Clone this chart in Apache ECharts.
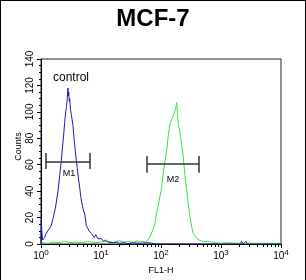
<!DOCTYPE html>
<html>
<head>
<meta charset="utf-8">
<script src="https://cdn.jsdelivr.net/npm/echarts@6/dist/echarts.min.js"></script>
<style>
html,body{margin:0;padding:0;background:#fff;}
#c{width:306px;height:280px;}
</style>
</head>
<body>
<div id="c"></div>
<script>
// ---- data ----
const title = 'MCF-7';
const xName = 'FL1-H';
const yName = 'Counts';
const xMin = 1, xMax = 10000;
const yMin = 0, yMax = 140, yInterval = 20;
const minorTickValues = [2,3,4,5,6,7,8,9,20,30,40,50,60,70,80,90,200,300,400,500,600,700,800,900,2000,3000,4000,5000,6000,7000,8000,9000];

// control (blue) histogram: [FL1-H, counts]
const controlData = [
  [1.0,0],[1.01,18],[1.03,10],[1.06,3],[1.1,2],[1.15,5],[1.22,8],[1.3,10],[1.4,12],[1.48,14],
  [1.6,20],[1.75,28],[1.92,40],[2.05,52],[2.18,63],[2.3,75],[2.4,84],[2.48,92],[2.58,100],
  [2.66,104],[2.74,110],[2.78,116],[2.82,118],[2.86,112],[2.9,115],[2.96,108],[3.01,110],
  [3.1,102],[3.2,98],[3.3,94],[3.41,90],[3.55,80],[3.7,72],[3.88,63],[4.0,58],[4.2,50],
  [4.41,43],[4.6,36],[4.8,31],[5.0,27],[5.2,28],[5.4,22],[5.69,14],[6.0,12],[6.3,10],
  [6.88,8],[7.3,7],[7.7,5],[8.2,7],[8.9,4],[9.5,3],[10.2,4],[11,2],[12,3],[13,1.5],[14,2],
  [16,1],[18,1.5],[20,0.5],[24,1],[28,0.3],[35,1],[45,0.5],[60,1],[85,0],[2100,0],[2200,2],
  [2350,0],[2500,0],[2600,2],[2750,0],[10000,0]
];
// MCF-7 (green) histogram: [FL1-H, counts]
const sampleData = [
  [1,1],[1.3,0.5],[1.6,1.5],[2,1],[2.5,2],[3,1],[4,1.5],[5,0.8],[6,2],[8,1],[10,1.5],[13,2],
  [16,1],[20,2.5],[25,1.5],[30,2],[35,1],[40,2.5],[45,1.5],[50,2],[55,1.5],[60,3],[65.6,5.5],
  [72,10],[79.4,15.6],[85,24],[90,29.5],[96,31],[102,42],[109,53.5],[116,62],[124.5,71],
  [132,82],[141,91],[150,94],[157,96],[165,99],[171,101],[177,104],[183,107],[188,98],
  [194,91],[200,88],[207,84],[220,76],[235,66],[250,52],[268,41],[285,30],[304,20.7],
  [325,13],[345,8],[370,6],[394,4.3],[430,3],[507,1.8],[600,2],[700,1.5],[800,1],[1000,0.5],
  [1200,1],[2000,0.5],[3000,0.5],[5000,0.5],[10000,0.5]
];
// gate markers
const gateNames = ['M1','M2'];
const gateStart = [1.2, 58];
const gateEnd = [6.6, 433];
const gateLevel = [62, 60.5];
const gateCapLow = [56.8, 54];
const gateCapHigh = [68.9, 66.6];
const gateLabelX = [2.93, 158];
const gateLabelY = [53.4, 49];
const annotation = 'control';

// ---- chart ----
const FONT = '"Liberation Sans", Arial, sans-serif';
const chart = echarts.init(document.getElementById('c'));

const markLines = [];
const markPoints = [];
for (let i = 0; i < gateNames.length; i++) {
  markLines.push([{coord:[gateStart[i], gateLevel[i]]},{coord:[gateEnd[i], gateLevel[i]]}]);
  markLines.push([{coord:[gateStart[i], gateCapLow[i]]},{coord:[gateStart[i], gateCapHigh[i]]}]);
  markLines.push([{coord:[gateEnd[i], gateCapLow[i]]},{coord:[gateEnd[i], gateCapHigh[i]]}]);
  markPoints.push({coord:[gateLabelX[i], gateLabelY[i]], value: gateNames[i]});
}

chart.setOption({
  animation: false,
  backgroundColor: '#fff',
  title: {
    text: title, left: 'center', top: 2,
    textStyle: {fontFamily: FONT, fontSize: 24, fontWeight: 'bold', color: '#000'}
  },
  grid: {left: 41, right: 25, top: 59, bottom: 36, show: true, borderColor: '#222', borderWidth: 1,
         containLabel: false, outerBoundsMode: 'none'},
  xAxis: [{
    type: 'log', logBase: 10, min: xMin, max: xMax,
    name: xName, nameLocation: 'middle', nameGap: 22,
    nameTextStyle: {fontFamily: FONT, fontSize: 9, color: '#000'},
    axisLine: {show: true, lineStyle: {color: '#000', width: 1}},
    axisTick: {show: true, length: 4, lineStyle: {color: '#000'}},
    minorTick: {show: false},
    splitLine: {show: false},
    axisLabel: {
      margin: 5, color: '#000',
      formatter: v => '{b|10}{s|' + Math.round(Math.log10(v)) + '}',
      rich: {
        b: {fontFamily: FONT, fontSize: 10, color: '#000'},
        s: {fontFamily: FONT, fontSize: 8, color: '#000', padding: [0,0,7,0]}
      }
    }
  },{
    type: 'log', logBase: 10, min: xMin, max: xMax, position: 'bottom',
    axisLine: {show: false},
    axisLabel: {show: false},
    splitLine: {show: false},
    axisTick: {show: true, length: 3, customValues: minorTickValues, lineStyle: {color: '#000'}}
  }],
  yAxis: {
    type: 'value', min: yMin, max: yMax, interval: yInterval,
    name: yName, nameLocation: 'middle', nameGap: 18, nameRotate: 90, nameMoveOverlap: false,
    nameTextStyle: {fontFamily: FONT, fontSize: 9, color: '#000', padding: [0,0,0,10]},
    axisLine: {show: true, lineStyle: {color: '#000', width: 1}},
    axisTick: {show: true, length: 4, lineStyle: {color: '#000'}},
    minorTick: {show: true, splitNumber: 4, length: 2, lineStyle: {color: '#000'}},
    splitLine: {show: false},
    axisLabel: {rotate: 90, margin: 6, fontFamily: FONT, fontSize: 10, color: '#000'}
  },
  graphic: [
    {type: 'line', shape: {x1: 0.5, y1: 0, x2: 0.5, y2: 280}, style: {stroke: '#000', lineWidth: 1}},
    {type: 'line', shape: {x1: 0, y1: 0.5, x2: 306, y2: 0.5}, style: {stroke: '#000', lineWidth: 1}},
    {type: 'line', shape: {x1: 305.5, y1: 0, x2: 305.5, y2: 280}, style: {stroke: '#000', lineWidth: 1}},
    {type: 'text', left: 53, top: 72, style: {text: annotation, fontFamily: FONT, fontSize: 12, fill: '#000'}}
  ],
  series: [
    {
      name: 'MCF-7', type: 'line', xAxisIndex: 0, data: sampleData, showSymbol: false, symbol: 'none',
      lineStyle: {color: '#3ee03e', width: 1}, z: 2
    },
    {
      name: 'control', type: 'line', xAxisIndex: 0, data: controlData, showSymbol: false, symbol: 'none',
      lineStyle: {color: '#1c1ca8', width: 1}, z: 3
    },
    {
      name: 'gates', type: 'line', xAxisIndex: 0, data: [], z: 4,
      markLine: {
        silent: true, symbol: 'none', animation: false,
        lineStyle: {color: '#333', width: 1.5, type: 'solid'},
        label: {show: false},
        data: markLines
      },
      markPoint: {
        silent: true, symbol: 'circle', symbolSize: 0, animation: false,
        label: {show: true, formatter: p => p.value, fontFamily: FONT, fontSize: 9, color: '#000'},
        data: markPoints
      }
    }
  ]
});
</script>
</body>
</html>
